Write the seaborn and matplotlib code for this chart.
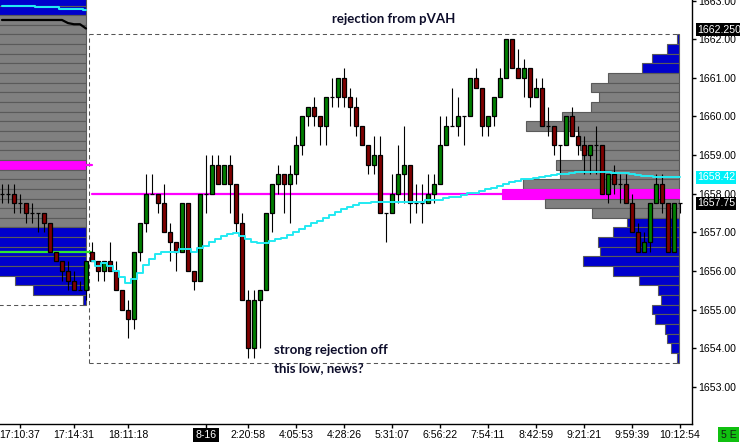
import numpy as np
import pandas as pd
import matplotlib
matplotlib.use('Agg')
import matplotlib.pyplot as plt
import matplotlib.transforms as mtransforms
from matplotlib.patches import Rectangle
import seaborn as sns

sns.set_theme(style='white')
plt.rcParams['font.family'] = ['Liberation Sans', 'DejaVu Sans']

# ---- candles (one bar index per candle, prior session first) ----
opens = [1658.0, 1658.0, 1658.0, 1657.75, 1657.75, 1657.5, 1657.5, 1657.5, 1657.25, 1656.5,
         1656.25, 1656.0, 1655.75, 1655.5, 1655.5,
         1656.5, 1656.25, 1656.0, 1656.25, 1656.0, 1655.5, 1655.0, 1654.75, 1656.5, 1657.25,
         1658.0, 1658.0, 1657.75, 1657.0, 1656.75, 1656.5, 1657.75, 1656.0, 1655.75, 1658.0,
         1658.0, 1658.75, 1658.25, 1658.75, 1658.25, 1657.25, 1655.25, 1654.0, 1655.25, 1655.5,
         1657.5, 1658.25, 1658.5, 1658.25, 1658.5, 1659.25, 1660.0, 1660.25, 1660.0, 1659.75,
         1660.5, 1660.5, 1661.0, 1660.5, 1660.25, 1659.75, 1659.25, 1658.75, 1659.0, 1657.5,
         1657.5, 1658.0, 1658.5, 1658.75, 1657.75, 1657.75, 1657.75, 1658.0, 1658.25, 1659.25,
         1659.75, 1659.75, 1660.0, 1660.0, 1661.0, 1660.75, 1659.75, 1660.0, 1660.5, 1661.0,
         1662.0, 1661.25, 1661.0, 1661.25, 1660.5, 1660.75, 1659.75, 1659.75, 1659.25, 1659.25,
         1660.0, 1659.5, 1659.25, 1659.0, 1659.25, 1659.25, 1658.0, 1658.5, 1658.25, 1658.25,
         1657.75, 1657.0, 1656.5, 1656.75, 1657.75, 1658.25, 1657.75, 1656.5, 1657.75]
highs = [1658.25, 1658.25, 1658.25, 1658.0, 1657.75, 1657.75, 1657.5, 1657.5, 1657.25, 1656.5,
         1656.25, 1656.25, 1656.0, 1655.75, 1656.25,
         1656.75, 1656.25, 1656.25, 1656.75, 1656.25, 1655.5, 1655.25, 1656.5, 1657.25, 1658.5,
         1658.5, 1658.0, 1658.25, 1657.25, 1656.75, 1657.75, 1657.75, 1656.0, 1658.0, 1659.0,
         1659.0, 1659.0, 1658.75, 1659.0, 1658.25, 1657.5, 1655.5, 1655.5, 1655.5, 1657.5,
         1658.25, 1658.75, 1658.5, 1658.75, 1659.5, 1660.0, 1660.25, 1660.5, 1660.0, 1660.5,
         1661.0, 1661.0, 1661.25, 1660.75, 1660.5, 1659.75, 1659.25, 1659.5, 1659.5, 1657.5,
         1658.5, 1659.25, 1659.75, 1658.75, 1658.25, 1658.25, 1658.5, 1658.5, 1660.0, 1660.0,
         1660.75, 1660.5, 1660.0, 1661.0, 1661.25, 1660.75, 1660.0, 1660.5, 1661.25, 1662.0,
         1662.0, 1661.75, 1661.5, 1661.25, 1661.0, 1661.0, 1660.25, 1659.75, 1659.25, 1660.0,
         1660.25, 1659.75, 1659.5, 1659.25, 1659.75, 1659.25, 1658.5, 1658.75, 1658.5, 1658.5,
         1658.0, 1657.25, 1657.0, 1657.75, 1658.5, 1658.5, 1657.75, 1657.75, 1657.75]
lows = [1657.75, 1657.75, 1657.5, 1657.5, 1657.25, 1657.25, 1657.0, 1657.0, 1656.5, 1656.25,
        1655.75, 1655.5, 1655.5, 1655.5, 1655.25,
        1656.25, 1655.75, 1655.75, 1656.0, 1655.5, 1655.0, 1654.25, 1654.5, 1656.25, 1657.0,
        1658.0, 1657.5, 1657.0, 1656.25, 1656.0, 1656.5, 1656.0, 1655.5, 1655.75, 1657.5,
        1658.0, 1658.25, 1658.25, 1657.5, 1657.0, 1655.25, 1653.75, 1653.75, 1654.0, 1655.5,
        1657.0, 1658.0, 1657.5, 1657.25, 1658.25, 1659.0, 1659.75, 1659.75, 1659.25, 1659.25,
        1660.25, 1660.25, 1660.25, 1659.75, 1659.5, 1659.25, 1658.5, 1658.5, 1657.5, 1656.75,
        1657.5, 1657.75, 1657.75, 1657.25, 1657.5, 1657.25, 1657.75, 1657.75, 1658.25, 1659.25,
        1659.75, 1659.5, 1659.25, 1660.0, 1660.75, 1659.5, 1659.5, 1659.75, 1660.5, 1661.0,
        1661.25, 1661.0, 1660.5, 1660.25, 1660.5, 1659.75, 1659.5, 1659.0, 1658.5, 1659.25,
        1659.5, 1659.0, 1658.5, 1658.5, 1658.5, 1658.0, 1657.75, 1658.0, 1657.75, 1657.75,
        1657.0, 1656.5, 1656.5, 1656.5, 1657.75, 1657.5, 1656.5, 1656.5, 1657.5]
closes = [1658.0, 1658.0, 1657.75, 1657.75, 1657.5, 1657.5, 1657.5, 1657.25, 1656.5, 1656.25,
          1656.0, 1655.75, 1655.5, 1655.5, 1656.25,
          1656.25, 1656.0, 1656.25, 1656.0, 1655.5, 1655.0, 1654.75, 1656.5, 1657.25, 1658.0,
          1658.0, 1657.75, 1657.0, 1656.75, 1656.5, 1657.75, 1656.0, 1655.75, 1658.0, 1658.0,
          1658.75, 1658.25, 1658.75, 1658.25, 1657.25, 1655.25, 1654.0, 1655.25, 1655.5, 1657.5,
          1658.25, 1658.5, 1658.25, 1658.5, 1659.25, 1660.0, 1660.25, 1660.0, 1659.75, 1660.5,
          1660.5, 1661.0, 1660.5, 1660.25, 1659.75, 1659.25, 1658.75, 1659.0, 1657.5, 1657.5,
          1658.0, 1658.5, 1658.75, 1657.75, 1657.75, 1657.75, 1658.0, 1658.25, 1659.25, 1659.75,
          1659.75, 1660.0, 1660.0, 1661.0, 1660.75, 1659.75, 1660.0, 1660.5, 1661.0, 1662.0,
          1661.25, 1661.0, 1661.25, 1660.5, 1660.75, 1659.75, 1659.75, 1659.25, 1659.25, 1660.0,
          1659.5, 1659.25, 1659.0, 1659.25, 1659.25, 1658.0, 1658.5, 1658.25, 1658.25, 1657.75,
          1657.0, 1656.5, 1656.75, 1657.75, 1658.25, 1657.75, 1656.5, 1657.75, 1657.75]
session_start = 15

# ---- VWAP of today's session ----
vwap = [1656.25, 1656.13, 1656.2, 1656.13, 1656.01, 1655.85, 1655.69, 1655.8, 1655.95, 1656.16,
        1656.32, 1656.44, 1656.5, 1656.5, 1656.5, 1656.57, 1656.57, 1656.5, 1656.59, 1656.65,
        1656.75, 1656.83, 1656.9, 1656.96, 1656.99, 1656.9, 1656.82, 1656.76, 1656.71, 1656.73,
        1656.78, 1656.83, 1656.86, 1656.93, 1657.0, 1657.08, 1657.16, 1657.23, 1657.3, 1657.38,
        1657.45, 1657.53, 1657.6, 1657.66, 1657.71, 1657.75, 1657.77, 1657.79, 1657.79, 1657.79,
        1657.79, 1657.79, 1657.79, 1657.79, 1657.79, 1657.79, 1657.84, 1657.84, 1657.84, 1657.88,
        1657.92, 1657.92, 1657.97, 1658.01, 1658.01, 1658.06, 1658.11, 1658.15, 1658.21, 1658.25,
        1658.3, 1658.34, 1658.37, 1658.39, 1658.41, 1658.44, 1658.47, 1658.49, 1658.51, 1658.52,
        1658.54, 1658.55, 1658.56, 1658.56, 1658.56, 1658.55, 1658.55, 1658.54, 1658.53, 1658.53,
        1658.5, 1658.48, 1658.46, 1658.45, 1658.44, 1658.44, 1658.43, 1658.42, 1658.42]

# prior session lines at the top left
prior_vwap = [1662.86, 1662.86, 1662.86, 1662.86, 1662.86, 1662.86, 1662.83, 1662.83, 1662.83,
              1662.83, 1662.79, 1662.79, 1662.79, 1662.79, 1662.76]
prior_line = [1662.5, 1662.5, 1662.5, 1662.5, 1662.5, 1662.5, 1662.5, 1662.5, 1662.5, 1662.5,
              1662.5, 1662.42, 1662.39, 1662.39, 1662.28]
prior_level = 1656.5
prior_poc = 1658.75
today_poc = 1658.0

# ---- volume profiles ----
prior_levels = list(np.arange(1663.0, 1655.0, -0.25))
prior_vol = [160, 150, 140, 150, 155, 160, 150, 140, 150, 160, 170, 165, 160, 170, 175, 180,
             190, 185, 180, 175, 170, 160, 150, 140, 150, 140, 130, 120, 110, 71, 53, 3]
prior_va = (1662.5, 1657.25)

today_levels = list(np.arange(1662.0, 1653.5, -0.25))
today_vol = [2, 12, 27, 37, 71, 88, 80, 88, 117, 153, 100, 99, 97, 123, 119, 156, 177, 134,
             87, 52, 66, 81, 79, 96, 66, 40, 21, 18, 27, 24, 14, 12, 8, 2]
today_va = (1661.0, 1657.5)

# ---- labels ----
tick_pos = [3, 12, 21, 34, 41, 49, 57, 65, 73, 81, 89, 97, 105, 113]
tick_labels = ['17:10:37', '17:14:31', '18:11:18', '8-16', '2:20:58', '4:05:53', '4:28:26',
               '5:31:07', '6:56:22', '7:54:11', '8:42:59', '9:21:21', '9:59:39', '10:12:54']
price_ticks = list(range(1653, 1664))

bars = pd.DataFrame({'open': opens, 'high': highs, 'low': lows, 'close': closes})
bars['idx'] = np.arange(len(bars))

fig = plt.figure(figsize=(7.4, 4.43), dpi=100)
ax = fig.add_axes([0, 19 / 443, 692 / 740, 424 / 443])
ax.set_xlim(-1 / 3, 115)
ax.set_ylim(1652.034, 1663.018)

GREY, BLUE, MAG, CYAN = '#808080', '#0000cc', '#ff00ff', '#22eaf2'
px = 1 / 6  # one pixel in bar units
FS = 7.6

# prior session profile (anchored right)
p_anchor = 13.92
for lev, v in zip(prior_levels, prior_vol):
    if abs(lev - prior_poc) < 1e-6:
        c = MAG
    elif prior_va[1] <= lev <= prior_va[0]:
        c = GREY
    else:
        c = BLUE
    ax.barh(lev, v * px, left=p_anchor - v * px, height=0.25, color=c,
            edgecolor='#5a5a5a', linewidth=0.8, zorder=1)

# today's profile
t_anchor = 112.88
for lev, v in zip(today_levels, today_vol):
    if abs(lev - today_poc) < 1e-6:
        c = MAG
    elif today_va[1] <= lev <= today_va[0]:
        c = GREY
    else:
        c = BLUE
    ax.barh(lev, v * px, left=t_anchor - v * px, height=0.25, color=c,
            edgecolor='#5a5a5a' if c != MAG else MAG, linewidth=0.8, zorder=1)

# session range boxes
dash = dict(color='#555555', lw=0.75, dashes=(4, 3), zorder=1.5)
hi_today = max(highs[session_start:]) + 0.125
lo_today = min(lows[session_start:]) - 0.125
ax.plot([14.5, t_anchor], [hi_today, hi_today], **dash)
ax.plot([14.5, t_anchor], [lo_today, lo_today], **dash)
ax.plot([14.5, 14.5], [lo_today, hi_today], **dash)
lo_prior = min(prior_levels) - 0.125
ax.plot([-1, p_anchor], [lo_prior, lo_prior], **dash)

# reference lines
ax.plot([session_start, t_anchor - today_vol[today_levels.index(today_poc)] * px],
        [today_poc, today_poc], color=MAG, lw=1.6, zorder=2)
ax.plot([p_anchor, session_start], [prior_poc, prior_poc], color=MAG, lw=1.6, zorder=2)
ax.plot([-1, 14.8], [prior_level, prior_level], color='#2ee62e', lw=1.6, zorder=2)
ax.plot(np.arange(15), prior_line, color='black', lw=1.6, zorder=2)
sns.lineplot(x=np.arange(15), y=prior_vwap, drawstyle='steps-mid', color=CYAN, lw=1.5,
             ax=ax, zorder=2)

# candles
ax.vlines(bars['idx'], bars['low'], bars['high'], color='black', lw=0.8, zorder=3)
body_lo = bars[['open', 'close']].min(axis=1)
body_h = (bars['close'] - bars['open']).abs()
cols = np.where(bars['close'] >= bars['open'], '#008000', '#800000')
ax.bar(bars['idx'], body_h, bottom=body_lo, width=0.72, color=cols,
       edgecolor='black', linewidth=0.9, zorder=4)

# VWAP
k_today = np.arange(session_start, len(bars))
sns.lineplot(x=k_today, y=vwap, drawstyle='steps-mid', color=CYAN, lw=1.4, ax=ax, zorder=5)

# axes styling
for s in ['left', 'top']:
    ax.spines[s].set_visible(False)
for s in ['right', 'bottom']:
    ax.spines[s].set_color('black')
    ax.spines[s].set_linewidth(1)
ax.yaxis.tick_right()
ax.set_yticks(price_ticks)
ax.set_yticklabels([f'{p:.2f}' for p in price_ticks])
ax.set_xticks(tick_pos)
ax.set_xticklabels(tick_labels)
ax.tick_params(axis='y', direction='out', length=3, width=1, pad=1.5, labelsize=FS,
               colors='black', right=True, left=False)
ax.tick_params(axis='x', direction='out', length=3, width=1, pad=1.5, labelsize=FS,
               colors='black', bottom=True)
ax.grid(False)
lbl = ax.get_xticklabels()[tick_labels.index('8-16')]
lbl.set_color('white')
lbl.set_bbox(dict(facecolor='black', edgecolor='none', pad=1.5))

# price boxes on the axis
btr = mtransforms.blended_transform_factory(ax.transAxes, ax.transData)
for price, text, fc, w in [(1662.25, '1662.250', 'black', 0.07),
                           (1658.42, '1658.42', '#00f0f8', 0.058),
                           (1657.75, '1657.75', 'black', 0.058)]:
    ax.add_patch(Rectangle((1.0058, price - 0.173), w, 0.346, transform=btr,
                           facecolor=fc, edgecolor='none', clip_on=False, zorder=10))
    ax.text(1.0075, price, text, transform=btr, color='white', fontsize=FS,
            va='center', ha='left', clip_on=False, zorder=11)

fig.text(728.5 / 740, 1 - 434.5 / 443, '5 E', fontsize=FS, color='#102010', ha='center',
         va='center', bbox=dict(facecolor='#10c010', edgecolor='none', pad=1.8))

# annotations
note = dict(family=['Lato', 'DejaVu Sans'], fontweight='bold', fontsize=9.5, color='#0d0d2a')
ax.text(65.2, 1662.53, 'rejection from pVAH', ha='center', va='center', zorder=12, **note)
ax.text(45.3, 1653.95, 'strong rejection off', ha='left', va='center', zorder=12, **note)
ax.text(45.3, 1653.48, 'this low, news?', ha='left', va='center', zorder=12, **note)

fig.savefig('out.png', dpi=100)
